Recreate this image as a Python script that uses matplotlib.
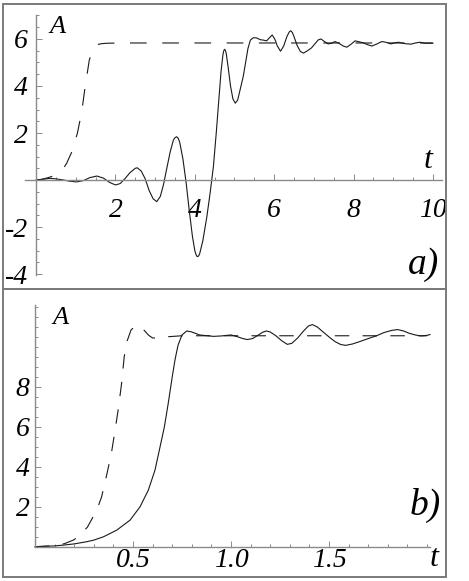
import matplotlib.pyplot as plt
from matplotlib.font_manager import FontProperties
from matplotlib.patches import Rectangle
from matplotlib.ticker import MultipleLocator

# panel a) data
T_A_DASH = [0, 0.15, 0.3, 0.43, 0.55, 0.67, 0.77, 0.9, 1.04, 1.15, 1.23, 1.34,
            1.42, 1.48, 1.54, 1.65, 1.8, 2.2, 10.0]
A_A_DASH = [0, 0.03, 0.1, 0.17, 0.28, 0.45, 0.71, 1.2, 1.99, 2.9, 3.9, 5.1,
            5.5, 5.68, 5.76, 5.8, 5.82, 5.83, 5.83]

T_A_SOLID = [0, 0.2, 0.35, 0.5, 0.69, 0.85, 1.02, 1.2, 1.35, 1.53, 1.7, 1.85,
             2.0, 2.12, 2.25, 2.37, 2.5, 2.55, 2.65, 2.75, 2.85, 2.95, 3.04,
             3.13, 3.21, 3.3, 3.38, 3.46, 3.5, 3.54, 3.58, 3.62, 3.7, 3.78,
             3.86, 3.94, 4.0, 4.03, 4.06, 4.09, 4.12, 4.2, 4.3, 4.39, 4.47,
             4.54, 4.6, 4.66, 4.71, 4.73, 4.75, 4.77, 4.79, 4.84, 4.9, 4.96,
             5.02, 5.08, 5.15, 5.22, 5.28, 5.34, 5.4, 5.47, 5.55, 5.65, 5.73,
             5.81, 5.88, 5.95, 6.02, 6.08, 6.16, 6.24, 6.32, 6.38, 6.42, 6.46,
             6.5, 6.58, 6.66, 6.74, 6.84, 6.94, 7.04, 7.11, 7.18, 7.26, 7.36,
             7.45, 7.53, 7.63, 7.74, 7.83, 7.94, 8.04, 8.14, 8.24, 8.35, 8.46,
             8.58, 8.71, 8.82, 8.94, 9.05, 9.13, 9.3, 9.45, 9.56, 9.67, 9.8,
             9.92, 10.0]
A_A_SOLID = [0, 0.04, 0.07, 0.05, 0.0, -0.05, -0.08, -0.02, 0.1, 0.17, 0.08,
             -0.1, -0.21, -0.15, 0.08, 0.32, 0.5, 0.52, 0.38, 0.05, -0.45,
             -0.8, -0.92, -0.7, -0.2, 0.55, 1.2, 1.7, 1.8, 1.84, 1.78, 1.6,
             0.9, -0.1, -1.3, -2.4, -3.0, -3.17, -3.26, -3.24, -3.15, -2.6,
             -1.6, -0.5, 0.6, 2.0, 3.3, 4.6, 5.35, 5.5, 5.56, 5.52, 5.4, 4.8,
             4.0, 3.45, 3.27, 3.4, 3.9, 4.4, 5.0, 5.6, 5.95, 6.05, 6.05, 5.97,
             5.95, 5.92, 6.05, 6.17, 5.98, 5.7, 5.48, 5.7, 6.1, 6.3, 6.35,
             6.27, 6.1, 5.72, 5.47, 5.4, 5.5, 5.62, 5.82, 5.96, 6.0, 5.9,
             5.79, 5.82, 5.89, 5.82, 5.7, 5.65, 5.78, 5.92, 5.88, 5.84, 5.76,
             5.7, 5.78, 5.89, 5.86, 5.79, 5.84, 5.86, 5.8, 5.78, 5.83, 5.86,
             5.82, 5.82, 5.82]

# panel b) data
T_B_DASH = [0, 0.1, 0.15, 0.2, 0.267, 0.315, 0.34, 0.366, 0.39, 0.408, 0.425,
            0.442, 0.455, 0.47, 0.49, 0.515, 0.54, 0.56, 0.58, 0.6, 0.63,
            0.66, 0.75, 2.0]
A_B_DASH = [0, 0.05, 0.15, 0.35, 0.97, 1.83, 2.5, 3.6, 4.7, 5.8, 6.9, 8.2,
            9.5, 10.3, 10.85, 11.08, 11.0, 10.8, 10.58, 10.45, 10.44, 10.5,
            10.56, 10.56]

T_B_SOLID = [0, 0.1, 0.145, 0.2, 0.264, 0.3, 0.35, 0.417, 0.485, 0.536, 0.578,
             0.612, 0.638, 0.66, 0.68, 0.7, 0.715, 0.73, 0.75, 0.774, 0.8,
             0.84, 0.91, 0.95, 0.978, 1.0, 1.03, 1.06, 1.083, 1.11, 1.14,
             1.16, 1.18, 1.2, 1.23, 1.26, 1.287, 1.31, 1.34, 1.37, 1.395,
             1.415, 1.44, 1.47, 1.5, 1.53, 1.56, 1.585, 1.62, 1.66, 1.7, 1.74,
             1.78, 1.82, 1.85, 1.88, 1.91, 1.94, 1.97, 2.0, 2.015]
A_B_SOLID = [0, 0.04, 0.08, 0.14, 0.25, 0.33, 0.5, 0.83, 1.33, 2.0, 2.83,
             3.83, 5.0, 6.0, 7.2, 8.5, 9.4, 10.1, 10.6, 10.8, 10.75, 10.6,
             10.53, 10.55, 10.58, 10.6, 10.52, 10.42, 10.37, 10.42, 10.6,
             10.73, 10.8, 10.75, 10.55, 10.3, 10.13, 10.18, 10.45, 10.8,
             11.05, 11.12, 11.0, 10.75, 10.5, 10.27, 10.12, 10.08, 10.15,
             10.28, 10.42, 10.55, 10.72, 10.83, 10.87, 10.8, 10.68, 10.6,
             10.55, 10.58, 10.62]

A_XTICKS = [2, 4, 6, 8, 10]
A_YTICKS = [-4, -2, 2, 4, 6]
A_YLABELS = ["-4", "-2", "2", "4", "6"]
B_XTICKS = [0.5, 1.0, 1.5]
B_XLABELS = ["0.5", "1.0", "1.5"]
B_YTICKS = [2, 4, 6, 8]

W, H = 469, 581
AXIS_GRAY = "#8a8a8a"
LINE = "#1a1a1a"


def serif(size):
    return FontProperties(family="Liberation Serif", style="italic", size=size)


def fx(px):
    return px / W


def fy(py):
    return 1 - py / H


def style_axes(ax, xpad, ypad):
    for side in ("top", "right"):
        ax.spines[side].set_visible(False)
    for side in ("left", "bottom"):
        ax.spines[side].set_position(("data", 0))
        ax.spines[side].set_color(AXIS_GRAY)
        ax.spines[side].set_linewidth(1.0)
    ax.tick_params(which="both", direction="in", color=AXIS_GRAY, width=0.7)
    ax.tick_params(which="major", length=4)
    ax.tick_params(which="minor", length=2.2)
    ax.tick_params(axis="x", pad=xpad)
    ax.tick_params(axis="y", pad=ypad)
    for lab in ax.get_xticklabels() + ax.get_yticklabels():
        lab.set_fontproperties(serif(20))
    ax.set_facecolor("none")


fig = plt.figure(figsize=(W / 100, H / 100), dpi=100)

# panel a)
ax1 = fig.add_axes([fx(25), fy(275), fx(442) - fx(25), fy(15) - fy(275)])
ax1.plot(T_A_DASH, A_A_DASH, color=LINE, lw=0.8, dashes=(15, 14))
ax1.plot(T_A_SOLID, A_A_SOLID, color=LINE, lw=0.8)
ax1.set_xlim(-0.28, 10.23)
ax1.set_ylim(-4.04, 7.02)
ax1.set_xticks(A_XTICKS, labels=[str(v) for v in A_XTICKS])
ax1.set_yticks(A_YTICKS, labels=A_YLABELS)
ax1.xaxis.set_minor_locator(MultipleLocator(0.5))
ax1.yaxis.set_minor_locator(MultipleLocator(0.5))
style_axes(ax1, 13, 6)

# panel b)
ax2 = fig.add_axes([fx(35), fy(546.7), fx(430) - fx(35), fy(305) - fy(546.7)])
ax2.plot(T_B_DASH, A_B_DASH, color=LINE, lw=0.8, dashes=(13, 12), clip_on=False)
ax2.plot(T_B_SOLID, A_B_SOLID, color=LINE, lw=0.8, clip_on=False)
ax2.set_xlim(0, 2.015)
ax2.set_ylim(0, 12.1)
ax2.set_xticks(B_XTICKS, labels=B_XLABELS)
ax2.set_yticks(B_YTICKS, labels=[str(v) for v in B_YTICKS])
ax2.xaxis.set_minor_locator(MultipleLocator(0.1))
ax2.yaxis.set_minor_locator(MultipleLocator(0.5))
style_axes(ax2, 1.0, 4)

# axis names and panel tags
fig.text(fx(57), fy(27), "A", fontproperties=serif(19), ha="center", va="center")
fig.text(fx(428), fy(160), "t", fontproperties=serif(23), ha="center", va="center")
fig.text(fx(423), fy(265), "a)", fontproperties=serif(27), ha="center", va="center")
fig.text(fx(60), fy(318), "A", fontproperties=serif(19), ha="center", va="center")
fig.text(fx(434), fy(558), "t", fontproperties=serif(23), ha="center", va="center")
fig.text(fx(425), fy(505), "b)", fontproperties=serif(27), ha="center", va="center")

# panel frames
for top, bottom in ((4, 289), (289, 577)):
    fig.add_artist(Rectangle((fx(3), fy(bottom)), fx(446) - fx(3), fy(top) - fy(bottom),
                             transform=fig.transFigure, fill=False,
                             ec="#7a7a7a", lw=1.4))

fig.savefig("out.png", dpi=100)
